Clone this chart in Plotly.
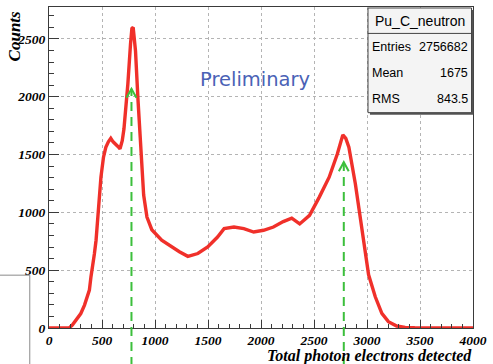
import plotly.graph_objects as go

# ---------------- data ----------------
PHOTO_ELECTRONS = [0, 100, 190, 220, 257, 300, 335, 365, 381, 396, 412, 428, 444, 465, 490,
                   514, 536, 560, 583, 605, 629, 650, 670, 691, 707, 722, 744, 769, 782, 794,
                   805, 816, 840, 868, 893, 924, 970, 1063, 1155, 1230, 1310, 1404, 1497, 1590,
                   1652, 1745, 1838, 1931, 2024, 2117, 2210, 2290, 2365, 2458, 2550, 2643, 2720,
                   2772, 2800, 2829, 2890, 2953, 3015, 3078, 3140, 3202, 3280, 3360, 3450, 4000]
COUNTS = [0, 0, 0, 25, 71, 125, 198, 272, 328, 444, 529, 640, 759, 1017, 1305,
          1477, 1563, 1610, 1640, 1610, 1592, 1570, 1550, 1620, 1720, 1851, 2110, 2455, 2590, 2600,
          2500, 2397, 1966, 1500, 1150, 960, 850, 760, 700, 660, 620, 644, 701, 787,
          859, 873, 859, 830, 845, 873, 920, 950, 900, 974, 1132, 1304, 1505,
          1670, 1640, 1563, 1247, 845, 460, 270, 127, 55, 17, 5, 2, 0]

ARROW_X = [778, 2781]          # marked peak positions
ARROW_TIP = [2069, 1434]       # arrow tip heights (counts)

X_RANGE = [0, 4000]
Y_RANGE = [0, 2776]

STATS_TITLE = "Pu_C_neutron"
STATS_ROWS = [("Entries", "2756682"), ("Mean", "1675"), ("RMS", "843.5")]

X_TITLE = "Total photon electrons detected"
Y_TITLE = "Counts"
WATERMARK = "Preliminary"

# ---------------- layout geometry (pixels) ----------------
W, H = 493, 364
PL, PR, PT, PB = 49, 479, 6, 328


def pxx(X):
    return (X - PL) / (PR - PL)


def pxy(Y):
    return (PB - Y) / (PB - PT)


RED = "#f0302a"
GREEN = "#3cbf3c"
SERIF = "Liberation Serif"
SANS = "Liberation Sans"

fig = go.Figure()
fig.add_trace(go.Scatter(x=PHOTO_ELECTRONS, y=COUNTS, mode="lines",
                         line=dict(color=RED, width=3.4), hoverinfo="skip",
                         showlegend=False))

shapes = []
annotations = []

# green dashed arrows (extend below the frame to the picture bottom)
x_per_px = (X_RANGE[1] - X_RANGE[0]) / (PR - PL)
y_per_px = (Y_RANGE[1] - Y_RANGE[0]) / (PB - PT)
for ax_x, tip in zip(ARROW_X, ARROW_TIP):
    tip_paper = (tip - Y_RANGE[0]) / (Y_RANGE[1] - Y_RANGE[0])
    shapes.append(dict(type="line", xref="x", yref="paper", x0=ax_x, x1=ax_x,
                       y0=pxy(H + 2), y1=tip_paper,
                       line=dict(color=GREEN, width=2, dash="9px,6px")))
    dx, dy = 5 * x_per_px, 9 * y_per_px
    shapes.append(dict(type="path", xref="x", yref="y",
                       path=f"M {ax_x - dx},{tip - dy} L {ax_x},{tip} L {ax_x + dx},{tip - dy}",
                       line=dict(color=GREEN, width=2)))

# stray frame lines at the left bottom of the picture
shapes.append(dict(type="line", xref="paper", yref="paper", x0=pxx(-2), x1=pxx(29.5),
                   y0=pxy(275), y1=pxy(275), line=dict(color="#8a8a8a", width=1)))
shapes.append(dict(type="line", xref="paper", yref="paper", x0=pxx(29.5), x1=pxx(29.5),
                   y0=pxy(275), y1=pxy(H + 2), line=dict(color="#8a8a8a", width=1)))

# statistics box
bx0, bx1, by0, by1 = 372.5, 477.5, 7, 112
shapes.append(dict(type="rect", xref="paper", yref="paper", x0=pxx(bx0 + 2), x1=pxx(bx1 + 2),
                   y0=pxy(by1 + 2), y1=pxy(by0 + 2), line=dict(width=0), fillcolor="#555555"))
shapes.append(dict(type="rect", xref="paper", yref="paper", x0=pxx(bx0), x1=pxx(bx1),
                   y0=pxy(by1), y1=pxy(by0), line=dict(color="#444444", width=1),
                   fillcolor="#f4f4f4"))
shapes.append(dict(type="line", xref="paper", yref="paper", x0=pxx(bx0), x1=pxx(bx1),
                   y0=pxy(32.5), y1=pxy(32.5), line=dict(color="#444444", width=1)))

annotations.append(dict(text=STATS_TITLE, xref="paper", yref="paper", x=pxx((bx0 + bx1) / 2),
                        y=pxy(20), xanchor="center", yanchor="middle", showarrow=False,
                        font=dict(family=SANS, size=14, color="black")))
for i, (lab, val) in enumerate(STATS_ROWS):
    yy = pxy(46.5 + i * 25.7)
    annotations.append(dict(text=lab, xref="paper", yref="paper", x=pxx(bx0 + 2), y=yy,
                            xanchor="left", yanchor="middle", showarrow=False,
                            font=dict(family=SANS, size=12.5, color="black")))
    annotations.append(dict(text=val, xref="paper", yref="paper", x=pxx(bx1 - 2), y=yy,
                            xanchor="right", yanchor="middle", showarrow=False,
                            font=dict(family=SANS, size=12.5, color="black")))

# axis titles
annotations.append(dict(text=Y_TITLE, xref="paper", yref="paper", x=pxx(14), y=pxy(35),
                        xanchor="center", yanchor="middle", textangle=-90, showarrow=False,
                        font=dict(family=SERIF, size=17, color="black", weight="bold",
                                  style="italic")))
annotations.append(dict(text=X_TITLE, xref="paper", yref="paper", x=pxx(480), y=pxy(356),
                        xanchor="right", yanchor="middle", showarrow=False,
                        font=dict(family=SERIF, size=16, color="black", weight="bold",
                                  style="italic")))
# watermark
annotations.append(dict(text=WATERMARK, xref="paper", yref="paper", x=pxx(258), y=pxy(79),
                        xanchor="center", yanchor="middle", showarrow=False,
                        font=dict(family="DejaVu Sans", size=19.5, color="#4a62b6")))

tickfont = dict(family=SERIF, size=13.5, color="black", weight="bold", style="italic")
common = dict(showline=True, linecolor="#3a3a3a", linewidth=1, mirror=True,
              showgrid=True, gridcolor="#b4b4b4", griddash="dot", gridwidth=1,
              zeroline=False, ticks="inside", tickcolor="#3a3a3a", tickwidth=1,
              tick0=0, dtick=500, tickfont=tickfont, fixedrange=True)

fig.update_layout(
    width=W, height=H,
    margin=dict(l=PL, r=W - PR, t=PT, b=H - PB),
    paper_bgcolor="white", plot_bgcolor="white",
    xaxis=dict(range=X_RANGE, ticklen=8, ticklabelstandoff=0,
               minor=dict(dtick=100, tick0=0, ticks="inside", ticklen=4,
                          tickcolor="#3a3a3a", showgrid=False),
               **common),
    yaxis=dict(range=Y_RANGE, ticklen=10,
               minor=dict(dtick=100, tick0=0, ticks="inside", ticklen=5,
                          tickcolor="#3a3a3a", showgrid=False),
               **common),
    shapes=shapes,
    annotations=annotations,
    showlegend=False,
)

fig.write_html("out.html", config={"displayModeBar": False},
               post_script="document.body.style.margin='0';document.body.style.overflow='hidden';")
